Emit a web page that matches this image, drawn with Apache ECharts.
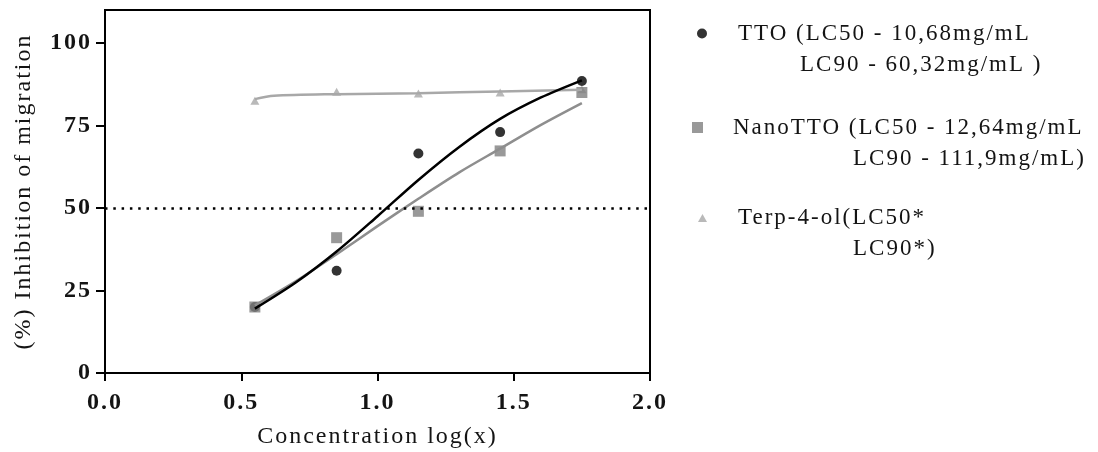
<!DOCTYPE html>
<html>
<head>
<meta charset="utf-8">
<script src="https://cdn.jsdelivr.net/npm/echarts@6/dist/echarts.min.js"></script>
<style>
  html, body { margin: 0; padding: 0; background: #fff; }
  #chart { width: 1098px; height: 452px; }
</style>
</head>
<body>
<div id="chart"></div>
<script>
// ---- data ----
const seriesNames = ['TTO', 'NanoTTO', 'Terp-4-ol'];
const xConc = [0.55, 0.85, 1.15, 1.45, 1.75];
const ttoObs = [20, 31, 66.5, 73, 88.5];
const nanoObs = [20, 41, 49, 67.3, 85];
const terpObs = [82.5, 85.2, 84.7, 85, 86];

const fitX = [0.55, 0.7, 0.85, 1.0, 1.15, 1.3, 1.45, 1.6, 1.75];
const ttoFit = [19.5, 27.4, 36.8, 47.5, 58.5, 68.5, 77, 83.5, 88.7];
const nanoFit = [20.5, 27.8, 36, 44.5, 52.8, 60.8, 68, 75.2, 81.8];
const terpFitX = [0.55, 0.62, 0.85, 1.15, 1.45, 1.75];
const terpFit = [83.0, 84.0, 84.5, 84.8, 85.3, 85.8];

const xTicks = [0, 0.5, 1.0, 1.5, 2.0];
const yTicks = [0, 25, 50, 75, 100];
const refLevel = 50;

const legendLine1 = ['TTO (LC50 - 10,68mg/mL', 'NanoTTO (LC50 - 12,64mg/mL', 'Terp-4-ol(LC50*'];
const legendLine2 = ['LC90 - 60,32mg/mL )', 'LC90 - 111,9mg/mL)', 'LC90*)'];

const xTitle = 'Concentration log(x)';
const yTitle = '(%) Inhibition of migration';

// the reference text is set with wide character spacing
const LETTER_SPACING = '2px';
(function () {
  const P = CanvasRenderingContext2D.prototype;
  const fill = P.fillText, measure = P.measureText;
  P.fillText = function () { this.letterSpacing = LETTER_SPACING; return fill.apply(this, arguments); };
  P.measureText = function () { this.letterSpacing = LETTER_SPACING; return measure.apply(this, arguments); };
})();

// ---- helpers ----
const zip = (xs, ys) => xs.map((x, i) => [x, ys[i]]);
const FONT = '"Liberation Serif", "Times New Roman", serif';
const TXT = '#141414';
const LEG_FS = 23, LEG_LH = 31;

function legendFor(i, icon, w, h, left, top, ind0, ind1) {
  return {
    data: [seriesNames[i]],
    left: left, top: top, padding: 0,
    icon: icon, itemWidth: w, itemHeight: h,
    selectedMode: false,
    formatter: () => '{e| }\n{p0|}{t|' + legendLine1[i] + '}\n{p1|}{t|' + legendLine2[i] + '}',
    textStyle: {
      fontFamily: FONT, fontSize: LEG_FS, color: TXT,
      rich: {
        e: { fontSize: LEG_FS, lineHeight: LEG_LH, fontFamily: FONT },
        p0: { width: ind0, lineHeight: LEG_LH },
        p1: { width: ind1, lineHeight: LEG_LH },
        t: { fontSize: LEG_FS, lineHeight: LEG_LH, fontFamily: FONT, color: TXT }
      }
    }
  };
}

const chart = echarts.init(document.getElementById('chart'), null, { renderer: 'canvas' });
chart.setOption({
  animation: false,
  backgroundColor: '#fff',
  textStyle: { fontFamily: FONT },
  grid: {
    left: 105, right: 448, top: 10, bottom: 79,
    containLabel: false, outerBoundsMode: 'none',
    show: true, borderColor: '#000', borderWidth: 2, backgroundColor: 'transparent'
  },
  legend: [
    legendFor(0, 'circle', 10, 10, 697, -10, 26, 88),
    legendFor(1, 'rect', 11, 11, 692, 84, 25, 145),
    legendFor(2, 'triangle', 9, 8, 698, 174.5, 26, 141)
  ],
  xAxis: {
    type: 'value', min: 0, max: 2, interval: 0.5,
    name: xTitle, nameLocation: 'middle', nameGap: 51,
    nameTextStyle: { fontFamily: FONT, fontSize: 24, color: TXT },
    axisLine: { show: true, onZero: false, lineStyle: { color: '#000', width: 2 } },
    axisTick: { show: true, length: 8, lineStyle: { color: '#000', width: 2 }, customValues: xTicks },
    axisLabel: {
      margin: 17, fontFamily: FONT, fontSize: 24, fontWeight: 'bold', color: TXT,
      customValues: xTicks, formatter: v => v.toFixed(1)
    },
    splitLine: { show: false }
  },
  yAxis: {
    type: 'value', min: 0, max: 110, interval: 25,
    name: yTitle, nameLocation: 'middle', nameGap: 68, nameRotate: 90,
    nameTextStyle: { fontFamily: FONT, fontSize: 24, color: TXT },
    axisLine: { show: true, onZero: false, lineStyle: { color: '#000', width: 2 } },
    axisTick: { show: true, length: 9, lineStyle: { color: '#000', width: 2 }, customValues: yTicks },
    axisLabel: {
      margin: 13, fontFamily: FONT, fontSize: 24, fontWeight: 'bold', color: TXT,
      customValues: yTicks
    },
    splitLine: { show: false }
  },
  series: [
    {
      name: 'Terp-4-ol fit', type: 'line', data: zip(terpFitX, terpFit),
      smooth: 0.3, showSymbol: false, silent: true,
      lineStyle: { color: '#a8a8a8', width: 2.5 },
      markLine: {
        silent: true, symbol: 'none', label: { show: false },
        lineStyle: { color: '#000', width: 2.5, type: [2.5, 5.8] },
        data: [{ yAxis: refLevel }]
      }
    },
    {
      name: seriesNames[2], type: 'scatter', data: zip(xConc, terpObs),
      symbol: 'triangle', symbolSize: [9, 8],
      itemStyle: { color: '#a8a8a8' }
    },
    {
      name: seriesNames[0], type: 'scatter', data: zip(xConc, ttoObs),
      symbol: 'circle', symbolSize: 10,
      itemStyle: { color: '#000' }
    },
    {
      name: seriesNames[1], type: 'scatter', data: zip(xConc, nanoObs),
      symbol: 'rect', symbolSize: 11,
      itemStyle: { color: '#808080' }
    },
    {
      name: 'NanoTTO fit', type: 'line', data: zip(fitX, nanoFit),
      smooth: 0.3, showSymbol: false, silent: true,
      lineStyle: { color: '#8e8e8e', width: 2.5 }
    },
    {
      name: 'TTO fit', type: 'line', data: zip(fitX, ttoFit),
      smooth: 0.3, showSymbol: false, silent: true,
      lineStyle: { color: '#000', width: 2.5 }
    }
  ]
});
</script>
</body>
</html>
